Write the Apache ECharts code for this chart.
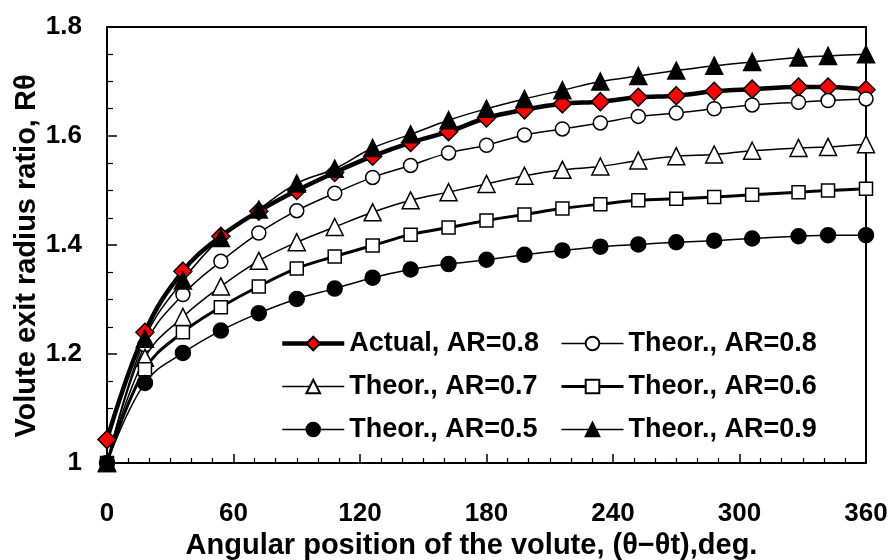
<!DOCTYPE html>
<html>
<head>
<meta charset="utf-8">
<script src="https://cdn.jsdelivr.net/npm/echarts@6/dist/echarts.min.js"></script>
<style>
  html, body { margin: 0; padding: 0; background: #fff; }
  #chart { width: 892px; height: 560px; }
</style>
</head>
<body>
<div id="chart"></div>
<script>
// angular position, deg
let angles = [0, 18, 36, 54, 72, 90, 108, 126, 144, 162, 180, 198, 216, 234, 252, 270, 288, 306, 328, 342, 360];
// exit radius ratio per series
let actual08 = [1.043, 1.240, 1.352, 1.416, 1.462, 1.500, 1.533, 1.563, 1.588, 1.608, 1.633, 1.648, 1.659, 1.663, 1.671, 1.674, 1.682, 1.686, 1.690, 1.690, 1.685];
let theor08 = [1.0, 1.217, 1.309, 1.370, 1.422, 1.463, 1.495, 1.524, 1.546, 1.569, 1.583, 1.602, 1.613, 1.624, 1.636, 1.642, 1.650, 1.657, 1.662, 1.665, 1.668];
let theor07 = [1.0, 1.193, 1.268, 1.324, 1.371, 1.405, 1.433, 1.460, 1.482, 1.497, 1.512, 1.527, 1.538, 1.544, 1.555, 1.563, 1.566, 1.573, 1.578, 1.580, 1.585];
let theor06 = [1.0, 1.172, 1.240, 1.286, 1.324, 1.357, 1.379, 1.399, 1.419, 1.432, 1.445, 1.456, 1.467, 1.475, 1.482, 1.485, 1.488, 1.492, 1.497, 1.500, 1.503];
let theor05 = [1.0, 1.147, 1.202, 1.243, 1.275, 1.301, 1.320, 1.340, 1.355, 1.365, 1.373, 1.382, 1.390, 1.397, 1.401, 1.405, 1.408, 1.412, 1.416, 1.418, 1.418];
let theor09 = [1.0, 1.228, 1.335, 1.413, 1.465, 1.513, 1.540, 1.578, 1.603, 1.629, 1.650, 1.668, 1.684, 1.700, 1.710, 1.720, 1.729, 1.736, 1.744, 1.747, 1.750];

let FONT = '"Liberation Sans", Arial, sans-serif';
let chart = echarts.init(document.querySelector('#chart'));

let pairs = arr => arr.map((v, i) => [angles[i], v]);

let makeSeries = (name, data, symbol, size, fill, width) => ({
  name: name,
  type: 'line',
  smooth: 0.4,
  data: pairs(data),
  symbol: symbol,
  symbolSize: size,
  showAllSymbol: true,
  lineStyle: { color: '#000', width: width },
  itemStyle: { color: fill, borderColor: '#000', borderWidth: 1.5 },
  emphasis: { disabled: true }
});

let legendText = { fontFamily: FONT, fontWeight: 'bold', fontSize: 27, color: '#000' };
let legendItem = (name, width) => ({ name: name, lineStyle: { color: '#000', width: width } });

chart.setOption({
  animation: false,
  grid: {
    left: 107, right: 26, top: 27, bottom: 97,
    outerBoundsMode: 'none', containLabel: false,
    show: true, borderColor: '#000', borderWidth: 2
  },
  legend: [{
    left: 280, top: 330, orient: 'vertical', padding: 0,
    itemWidth: 62, itemHeight: 17, itemGap: 16,
    textStyle: legendText,
    data: [legendItem('Actual, AR=0.8', 4.5), legendItem('Theor., AR=0.7', 1.5), legendItem('Theor., AR=0.5', 1.5)]
  }, {
    left: 560, top: 330, orient: 'vertical', padding: 0,
    itemWidth: 62, itemHeight: 17, itemGap: 16,
    textStyle: legendText,
    data: [legendItem('Theor., AR=0.8', 1.5), legendItem('Theor., AR=0.6', 3), legendItem('Theor., AR=0.9', 1.5)]
  }],
  xAxis: {
    type: 'value', min: 0, max: 360, interval: 60,
    name: 'Angular position of the volute, (θ−θt),deg.',
    nameLocation: 'middle', nameGap: 54,
    nameTextStyle: { fontFamily: FONT, fontWeight: 'bold', fontSize: 29, color: '#000', padding: [0, 30, 0, 0] },
    axisLine: { lineStyle: { color: '#000', width: 2 } },
    axisTick: { inside: true, length: 9, lineStyle: { color: '#000', width: 1.5 } },
    minorTick: { show: true, splitNumber: 6, length: 5, lineStyle: { color: '#000', width: 1.2 } },
    splitLine: { show: false },
    axisLabel: { margin: 38, fontFamily: FONT, fontWeight: 'bold', fontSize: 26, color: '#000' }
  },
  yAxis: {
    type: 'value', min: 1, max: 1.8, interval: 0.2,
    name: 'Volute exit radius ratio, Rθ',
    nameLocation: 'middle', nameGap: 66, nameMoveOverlap: false,
    nameTextStyle: { fontFamily: FONT, fontWeight: 'bold', fontSize: 29, color: '#000', padding: [0, 22, 0, 0] },
    axisLine: { lineStyle: { color: '#000', width: 2 } },
    axisTick: { inside: true, length: 10, lineStyle: { color: '#000', width: 1.5 } },
    minorTick: { show: true, splitNumber: 4, length: 6, lineStyle: { color: '#000', width: 1.2 } },
    splitLine: { show: false },
    axisLabel: { margin: 25, fontFamily: FONT, fontWeight: 'bold', fontSize: 26, color: '#000' }
  },
  series: [
    makeSeries('Actual, AR=0.8', actual08, 'diamond', 18, '#ff0000', 4.5),
    makeSeries('Theor., AR=0.8', theor08, 'circle', 14, '#fff', 1.5),
    makeSeries('Theor., AR=0.7', theor07, 'triangle', 17, '#fff', 1.5),
    makeSeries('Theor., AR=0.6', theor06, 'rect', 13, '#fff', 3),
    makeSeries('Theor., AR=0.5', theor05, 'circle', 15, '#000', 1.5),
    makeSeries('Theor., AR=0.9', theor09, 'triangle', 17, '#000', 1.5)
  ]
});
</script>
</body>
</html>
